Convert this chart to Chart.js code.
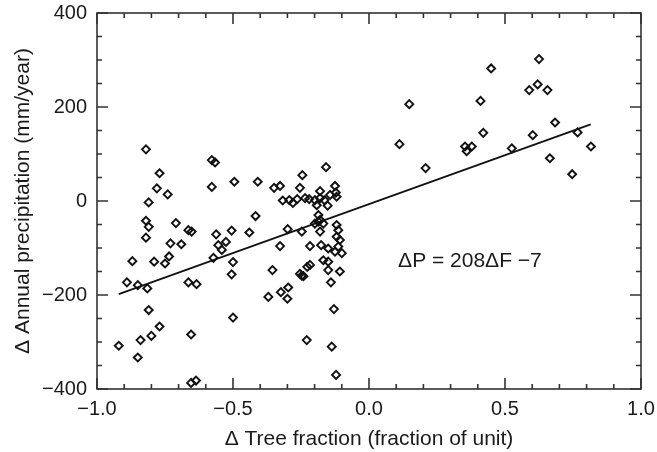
<!DOCTYPE html>
<html>
<head>
<meta charset="utf-8">
<script src="https://cdn.jsdelivr.net/npm/chart.js"></script>
<style>
  html, body { margin: 0; padding: 0; background: #fff; }
  #wrap { width: 657px; height: 452px; position: relative; }
</style>
</head>
<body>
<div id="wrap"><canvas id="chart"></canvas></div>
<script>
// Δ tree fraction vs Δ annual precipitation
const treeFrac = [
  -0.82, -0.77, -0.78, -0.74, -0.81, -0.578, -0.566, -0.578,
  -0.82, -0.81, -0.82, -0.71, -0.664, -0.652, -0.73, -0.69,
  -0.87, -0.79, -0.735, -0.75, -0.89, -0.85, -0.815, -0.664,
  -0.634, -0.81, -0.77, -0.80, -0.84, -0.92, -0.85, -0.654,
  -0.654, -0.636, -0.562, -0.554, -0.541, -0.526, -0.505, -0.572,
  -0.50, -0.505, -0.50,
  -0.495, -0.409, -0.349, -0.327, -0.245, -0.158, -0.254, -0.125,
  -0.143, -0.119, -0.18, -0.317, -0.293, -0.28, -0.264, -0.22,
  -0.199, -0.18, -0.164, -0.192, -0.152, -0.186, -0.18, -0.119,
  -0.417, -0.44, -0.327, -0.355, -0.37, -0.324, -0.297, -0.30,
  -0.299, -0.247, -0.217, -0.217, -0.227, -0.247, -0.241, -0.229,
  -0.199, -0.186, -0.168, -0.18, -0.113, -0.119, -0.107, -0.113,
  -0.176, -0.15, -0.125, -0.10, -0.168, -0.15, -0.15, -0.107,
  -0.254, -0.14, -0.129, -0.137, -0.121, -0.235, -0.122,
  0.112, 0.148, 0.208, 0.353, 0.359, 0.378, 0.41, 0.42,
  0.449, 0.525, 0.589, 0.602, 0.62, 0.625, 0.656, 0.665,
  0.684, 0.747, 0.767, 0.816
];
const precip = [
  110, 59, 27, 14, -3, 87, 82, 30,
  -42, -55, -78, -47, -62, -65, -90, -92,
  -128, -129, -118, -133, -173, -179, -186, -173,
  -177, -232, -267, -287, -296, -308, -333, -284,
  -387, -382, -71, -94, -104, -87, -63, -121,
  -130, -156, -248,
  41, 41, 28, 32, 55, 72, 28, 32,
  13, 9, 21, 1, 2, -4, 4, 4,
  2, 6, 2, -9, -10, -30, -40, -51,
  -32, -67, -96, -147, -204, -194, -184, -208,
  -60, -65, -96, -136, -140, -159, -160, -296,
  -48, -44, -48, -65, -62, -76, -83, -97,
  -94, -101, -108, -111, -126, -129, -147, -150,
  -155, -173, -230, -310, -370, 6, 18,
  121, 206, 70, 116, 106, 116, 213, 145,
  282, 112, 236, 140, 248, 302, 236, 91,
  167, 57, 146, 116
];

// regression line end points
const fitX = [-0.92, 0.815];
const fitY = [-198, 163];

const xTicks = [-1.0, -0.5, 0.0, 0.5, 1.0];
const yTicks = [-400, -200, 0, 200, 400];
const xMinorStep = 0.1;
const yMinorStep = 50;

const equationText = 'ΔP = 208ΔF −7';
const equationAt = { x: 0.107, y: -140 };

const ink = '#1a1a1a';
const axisInk = '#333';

Chart.defaults.font.family = "'Liberation Sans', Arial, sans-serif";
Chart.defaults.font.size = 20;
Chart.defaults.color = ink;

const fmt = (v, d) => v.toFixed(d).replace('-', '\u2212');

// keep label overflow from pushing the plot box around
const noOverflow = s => {
  s.paddingTop = 0; s.paddingBottom = 0;
  s.paddingLeft = 0; s.paddingRight = 0;
};

// box frame + inward ticks on all four sides, plus the equation
const framePlugin = {
  id: 'frame',
  afterDatasetsDraw(chart) {
    const { ctx, chartArea: a, scales: { x, y } } = chart;
    ctx.save();
    ctx.strokeStyle = axisInk;
    ctx.lineWidth = 1.6;
    ctx.strokeRect(a.left, a.top, a.right - a.left, a.bottom - a.top);

    ctx.beginPath();
    for (let i = -10; i <= 10; i++) {
      const px = x.getPixelForValue(i * xMinorStep);
      const len = i % 5 === 0 ? 11 : 5;
      ctx.moveTo(px, a.bottom); ctx.lineTo(px, a.bottom - len);
      ctx.moveTo(px, a.top); ctx.lineTo(px, a.top + len);
    }
    for (let i = -8; i <= 8; i++) {
      const py = y.getPixelForValue(i * yMinorStep);
      const len = i % 4 === 0 ? 11 : 5;
      ctx.moveTo(a.left, py); ctx.lineTo(a.left + len, py);
      ctx.moveTo(a.right, py); ctx.lineTo(a.right - len, py);
    }
    ctx.stroke();

    ctx.fillStyle = ink;
    ctx.font = "21px 'Liberation Sans', Arial, sans-serif";
    ctx.textAlign = 'left';
    ctx.textBaseline = 'alphabetic';
    ctx.fillText(equationText, x.getPixelForValue(equationAt.x), y.getPixelForValue(equationAt.y));
    ctx.restore();
  }
};

new Chart(document.getElementById('chart'), {
  type: 'scatter',
  data: {
    datasets: [
      {
        data: treeFrac.map((v, i) => ({ x: v, y: precip[i] })),
        pointStyle: 'rectRot',
        pointRadius: 4,
        pointBorderWidth: 1.9,
        pointBorderColor: '#111',
        pointBackgroundColor: 'rgba(0,0,0,0)'
      },
      {
        type: 'line',
        data: fitX.map((v, i) => ({ x: v, y: fitY[i] })),
        borderColor: '#111',
        borderWidth: 1.8,
        pointRadius: 0,
        fill: false
      }
    ]
  },
  options: {
    responsive: true,
    maintainAspectRatio: false,
    animation: false,
    layout: { padding: { left: 0, right: 16, top: 13, bottom: 0 } },
    plugins: { legend: { display: false }, tooltip: { enabled: false } },
    scales: {
      x: {
        type: 'linear',
        min: -1, max: 1,
        afterBuildTicks: s => { s.ticks = xTicks.map(v => ({ value: v })); },
        afterFit: s => { s.height = 63; noOverflow(s); },
        grid: { display: false, drawTicks: false },
        border: { display: false },
        ticks: { padding: 8, callback: v => fmt(v, 1), maxRotation: 0 },
        title: {
          display: true,
          text: 'Δ Tree fraction (fraction of unit)',
          font: { size: 21 },
          padding: { top: 0, bottom: 0 }
        }
      },
      y: {
        type: 'linear',
        min: -400, max: 400,
        afterBuildTicks: s => { s.ticks = yTicks.map(v => ({ value: v })); },
        afterFit: s => { s.width = 97; noOverflow(s); },
        grid: { display: false, drawTicks: false },
        border: { display: false },
        ticks: { padding: 10, callback: v => fmt(v, 0) },
        title: {
          display: true,
          text: 'Δ Annual precipitation (mm/year)',
          font: { size: 21 },
          padding: { top: 11, bottom: 0 }
        }
      }
    }
  },
  plugins: [framePlugin]
});
</script>
</body>
</html>
